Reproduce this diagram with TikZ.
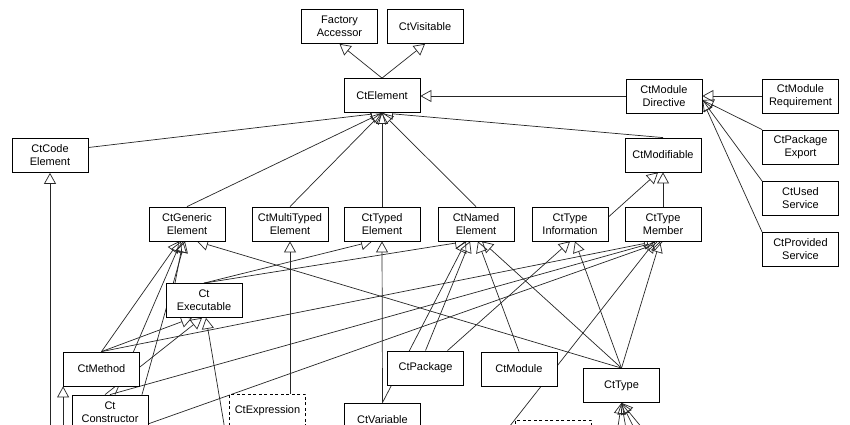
\documentclass[tikz,border=0pt]{standalone}
\usepackage{fontspec}
\setmainfont{Liberation Sans}
\usetikzlibrary{arrows.meta}
\pgfdeclarelayer{bg}
\pgfsetlayers{bg,main}
\tikzset{
  cls/.style={draw=black, line width=0.8pt, fill=white, minimum width=76pt, minimum height=34pt,
    align=center, inner sep=2pt, font=\fontsize{11}{13}\selectfont},
  dcls/.style={cls, dash pattern=on 3pt off 2.5pt},
  inh/.style={draw=black!85, line width=0.7pt, -{Triangle[open, length=11pt, width=12pt]}},
}
\begin{document}
\begin{tikzpicture}[x=1pt,y=-1pt]
\useasboundingbox (0,0) rectangle (850,425);
\clip (0,0) rectangle (850,425);
% classes
\node[cls] (fa) at (339.5,26.5) {Factory\\Accessor};
\node[cls] (vis) at (425,26.5) {CtVisitable};
\node[cls] (el) at (382,95.5) {CtElement};
\node[cls] (md) at (664,96) {CtModule\\Directive};
\node[cls] (mr) at (800.5,96) {CtModule\\Requirement};
\node[cls] (pe) at (800.5,147) {CtPackage\\Export};
\node[cls] (us) at (800.5,198.5) {CtUsed\\Service};
\node[cls] (ps) at (800.5,249.5) {CtProvided\\Service};
\node[cls] (ce) at (50,155.5) {CtCode\\Element};
\node[cls] (mod) at (663,155) {CtModifiable};
\node[cls] (ge) at (187,224) {CtGeneric\\Element};
\node[cls] (mte) at (290,224) {CtMultiTyped\\Element};
\node[cls] (te) at (382,224) {CtTyped\\Element};
\node[cls] (ne) at (476,224) {CtNamed\\Element};
\node[cls] (ti) at (570,224) {CtType\\Information};
\node[cls] (tm) at (663,224) {CtType\\Member};
\node[cls] (ex) at (204,300.5) {Ct\\Executable};
\node[cls] (meth) at (101.5,369) {CtMethod};
\node[cls] (cons) at (110,412) {Ct\\Constructor};
\node[dcls] (expr) at (267.5,411) {CtExpression};
\node[cls] (pkg) at (425.5,368) {CtPackage};
\node[cls] (module) at (519,369) {CtModule};
\node[cls] (var) at (382.5,420) {CtVariable};
\node[cls] (type) at (621.5,385.5) {CtType};
\node[dcls] (db) at (553.5,437) {};
% connectors
\begin{pgfonlayer}{bg}
\begin{scope}
\clip (0,0) rectangle (850,425);
\fill[white] (0,0) rectangle (850,425);
\coordinate (o1) at (114,436);
\coordinate (o2) at (502,436);
\coordinate (o3) at (226,436);
\coordinate (t1) at (616,440);
\coordinate (t2) at (628,440);
\coordinate (t3) at (640,440);
\coordinate (t4) at (652,440);
\draw[inh] (el.north) -- (fa.south);
\draw[inh] (el.north) -- (vis.south);
\draw[inh] (md.west) -- (md.west -| el.east);
\draw[inh] (mr.west) -- (md.east);
\draw[inh] (pe.north west) -- ([yshift=-4pt]md.east);
\draw[inh] (us.north west) -- ([yshift=-4pt]md.east);
\draw[inh] (ps.north west) -- ([yshift=-4pt]md.east);
\draw[inh] ([yshift=8pt]ce.east) -- (el.south);
\draw[inh] (ge.north) -- (el.south);
\draw[inh] (mte.north) -- (el.south);
\draw[inh] (te.north) -- (el.south);
\draw[inh] (ne.north) -- (el.south);
\draw[inh] (mod.north) -- (el.south);
\draw[inh] ([yshift=7pt]ti.east) -- ([xshift=-5pt]mod.south);
\draw[inh] (tm.north) -- (mod.south);
\draw[inh] (ce.south |- o1) -- (ce.south);
\draw[inh] (meth.south west |- o1) -- (meth.south west);
\draw[inh] (expr.north -| mte.south) -- (mte.south);
\draw[inh] (var.north) -- (te.south);
% CtExecutable
\draw[inh] (ex.north) -- ([xshift=-10pt]te.south);
\draw[inh] (ex.north) -- ([xshift=-10pt]ne.south);
\draw[inh] ([xshift=-29pt]ex.north) -- ([xshift=-4pt]ge.south);
\draw[inh] (o3) -- ([xshift=2pt]ex.south);
% CtMethod
\draw[inh] (meth.north) -- ([xshift=-8pt]ge.south);
\draw[inh] (meth.north) -- ([xshift=-12pt]ex.south);
\draw[inh] (meth.north) -- ([xshift=-8pt]tm.south);
% CtConstructor
\draw[inh] ([xshift=5pt]cons.north) -- ([xshift=-6pt]ge.south);
\draw[inh] ([xshift=32pt]cons.north) -- ([xshift=-2pt]ge.south);
\draw[inh] ([xshift=-5pt]cons.north) -- ([xshift=-2pt]ex.south);
\draw[inh] (cons.north) -- ([xshift=-5pt]tm.south);
\draw[inh] (o1) -- (tm.south);
\draw[inh] (o2) -- ([xshift=-8pt]tm.south);
% CtPackage, CtVariable, CtModule
\draw[inh] (pkg.north) -- ([xshift=-6pt]ne.south);
\draw[inh] ([xshift=22pt]pkg.north) -- (ti.south);
\draw[inh] (var.north) -- ([xshift=-10pt]ne.south);
\draw[inh] (module.north) -- ([xshift=2pt]ne.south);
% CtType
\draw[inh] (type.north) -- ([xshift=10pt]ge.south);
\draw[inh] (type.north) -- ([xshift=6pt]ne.south);
\draw[inh] (type.north) -- ([xshift=5pt]ti.south);
\draw[inh] (type.north) -- ([xshift=-3pt]tm.south);
\draw[inh] (t1) -- (type.south);
\draw[inh] (t2) -- (type.south);
\draw[inh] (t3) -- (type.south);
\draw[inh] (t4) -- (type.south);
\end{scope}
\end{pgfonlayer}
\end{tikzpicture}
\end{document}
